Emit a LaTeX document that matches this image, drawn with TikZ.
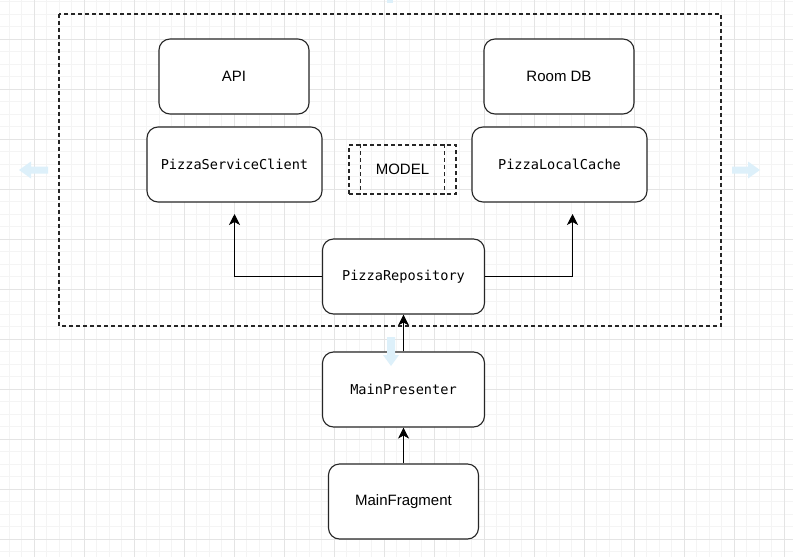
\documentclass[tikz,border=0pt]{standalone}
\usepackage{fontspec}
\setmainfont{Liberation Sans}
\newfontfamily\codefont{DejaVu Sans Mono}
\usetikzlibrary{arrows.meta}
\definecolor{gridminor}{HTML}{F4F4F4}
\definecolor{gridmajor}{HTML}{E4E4E4}
\definecolor{hintblue}{HTML}{DDF0FA}
\begin{document}
\begin{tikzpicture}[x=1pt,y=-1pt,
    box/.style={draw=black!85,line width=1.1pt,rounded corners=11pt,fill=white,
      minimum height=75pt,inner sep=0pt,font=\fontsize{15}{18}\selectfont},
    codebox/.style={box,font=\codefont\fontsize{13.6}{16}\selectfont},
    link/.style={draw=black,line width=1.1pt,-{Stealth[length=11pt,width=11pt,inset=3pt]}},
    hint/.style={fill=hintblue,draw=none}]
  \useasboundingbox (0,0) rectangle (793,557);
  \fill[white] (0,0) rectangle (793,557);
  % grid
  \foreach \gx in {0,...,63}
    \draw[gridminor,line width=0.8pt] ({9+12.5*\gx},0) -- ({9+12.5*\gx},557);
  \foreach \gy in {0,...,45}
    \draw[gridminor,line width=0.8pt] (0,{1.5+12.5*\gy}) -- (793,{1.5+12.5*\gy});
  \foreach \gx in {0,...,15}
    \draw[gridmajor,line width=0.8pt] ({34+50*\gx},0) -- ({34+50*\gx},557);
  \foreach \gy in {0,...,10}
    \draw[gridmajor,line width=0.8pt] (0,{39+50*\gy}) -- (793,{39+50*\gy});
  % model frame
  \draw[black!85,line width=1.1pt,dash pattern=on 4pt off 3pt] (59,14) rectangle (721,326);
  \node[box,minimum width=150pt] (api) at (234,76.5) {API};
  \node[box,minimum width=150pt] (room) at (559,76.5) {Room DB};
  \node[codebox,minimum width=175pt] (client) at (234.5,164.5) {PizzaServiceClient};
  \node[codebox,minimum width=175pt] (cache) at (559.5,164.5) {PizzaLocalCache};
  \node[draw=black!85,line width=1.1pt,dash pattern=on 4pt off 3pt,minimum width=107pt,
    minimum height=49pt,inner sep=0pt,font=\fontsize{15}{18}\selectfont] (model) at (402.5,169.5) {MODEL};
  \draw[black!85,line width=1.1pt,dash pattern=on 4pt off 3pt]
    ([xshift=12pt]model.north west) -- ([xshift=12pt]model.south west);
  \draw[black!85,line width=1.1pt,dash pattern=on 4pt off 3pt]
    ([xshift=-12pt]model.north east) -- ([xshift=-12pt]model.south east);
  \node[codebox,minimum width=162pt] (repo) at (403.5,276.5) {PizzaRepository};
  \node[codebox,minimum width=162pt] (presenter) at (403.5,389.5) {MainPresenter};
  \node[box,minimum width=150pt] (fragment) at (403.5,501.5) {MainFragment};
  % arrows
  \coordinate (clientin) at (234.5,214);
  \coordinate (cachein) at (572.5,214);
  \draw[link] (repo.west) -| (clientin);
  \draw[link] (repo.east) -| (cachein);
  \draw[link] (presenter.north) -- (repo.south);
  \draw[link] (fragment.north) -- (presenter.south);
  % hover hints
  \fill[hint] (19,170) -- (31,161.5) -- (31,166.5) -- (48,166.5) -- (48,173.5) -- (31,173.5) -- (31,178.5) -- cycle;
  \fill[hint] (760,170) -- (748,161.5) -- (748,166.5) -- (732,166.5) -- (732,173.5) -- (748,173.5) -- (748,178.5) -- cycle;
  \fill[hint] (391,366) -- (383,355) -- (387,355) -- (387,337) -- (395,337) -- (395,355) -- (399,355) -- cycle;
  \fill[hint] (387,0) rectangle (393,3);
\end{tikzpicture}
\end{document}
